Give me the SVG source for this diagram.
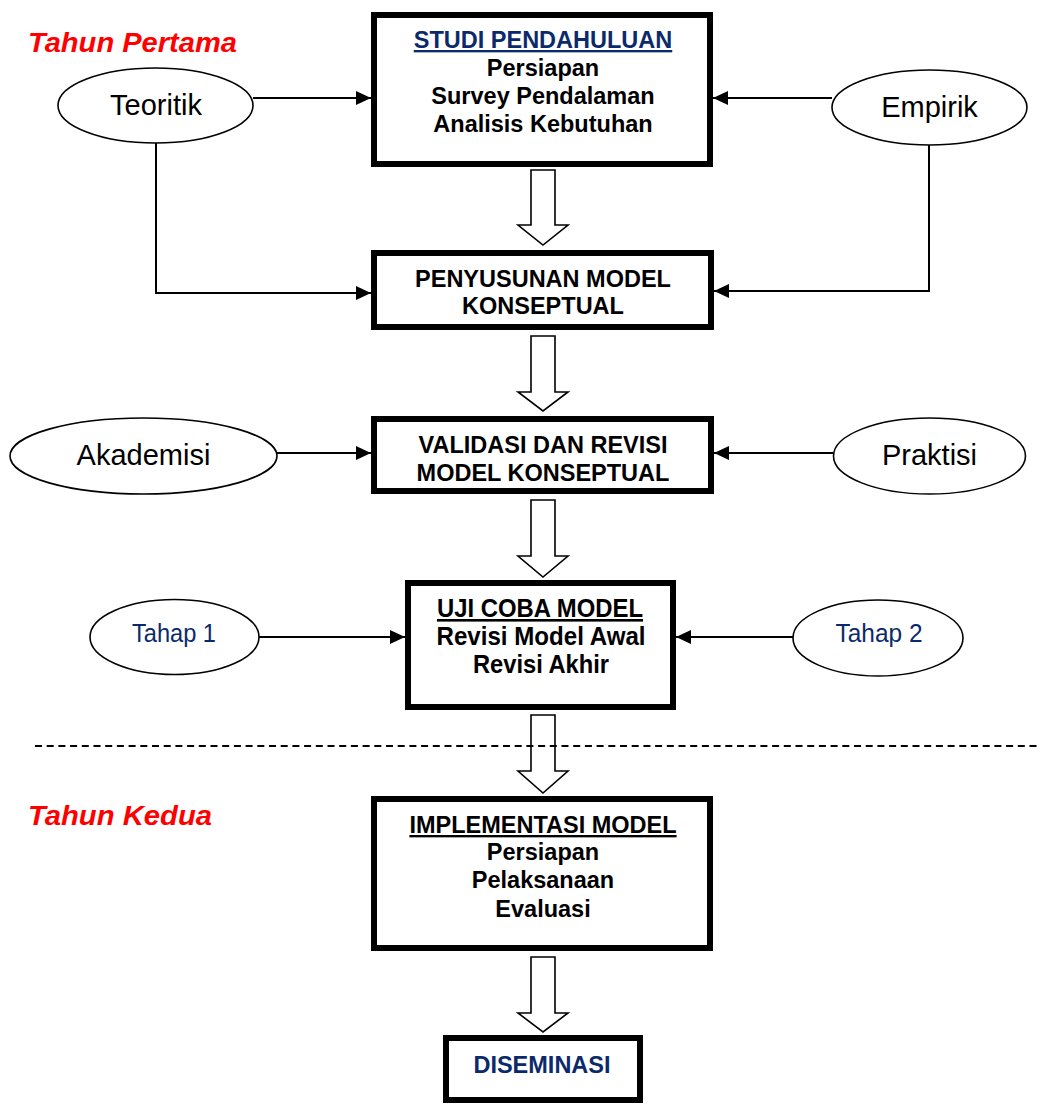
<svg xmlns="http://www.w3.org/2000/svg" width="1041" height="1104" viewBox="0 0 1041 1104">
  <defs>
    <marker id="ah" markerUnits="userSpaceOnUse" markerWidth="15" markerHeight="14" refX="15" refY="7" orient="auto">
      <path d="M0,0 L15,7 L0,14 Z" fill="#000"/>
    </marker>
    <style>
      .box { fill: #fff; stroke: #000; stroke-width: 6; }
      .ell { fill: #fff; stroke: #000; stroke-width: 1.6; }
      .line { fill: none; stroke: #000; stroke-width: 2; }
      .arr { marker-end: url(#ah); }
      .blk { fill: #fff; stroke: #000; stroke-width: 1.6; stroke-linejoin: miter; }
      .bt { font-family: "Liberation Sans", Arial, sans-serif; font-weight: bold; font-size: 23.5px; text-anchor: middle; fill: #000; }
      .nt { font-family: "Liberation Sans Narrow", "Liberation Sans", Arial, sans-serif; font-weight: bold; font-size: 26px; text-anchor: middle; fill: #000; }
      .et { font-family: "Liberation Sans", Arial, sans-serif; font-size: 29px; text-anchor: middle; fill: #000; }
      .tt { font-family: "Liberation Sans Narrow", "Liberation Sans", Arial, sans-serif; font-size: 26px; text-anchor: middle; fill: #0B2A6B; }
      .navy { fill: #0B2A6B; }
      .red { font-family: "Liberation Sans", Arial, sans-serif; font-weight: bold; font-style: italic; font-size: 28px; fill: #FF0000; }
      .u { text-decoration: underline; }
    </style>
  </defs>

  <g id="title-tahun-pertama">
    <text class="red" x="28" y="52" textLength="209" lengthAdjust="spacingAndGlyphs">Tahun Pertama</text>
  </g>
  <g id="title-tahun-kedua">
    <text class="red" x="28" y="825" textLength="184" lengthAdjust="spacingAndGlyphs">Tahun Kedua</text>
  </g>

  <g id="connectors">
    <line class="line arr" x1="253" y1="98" x2="371" y2="98"/>
    <line class="line arr" x1="832" y1="98" x2="713" y2="98"/>
    <polyline class="line arr" points="156,143 156,293 371,293"/>
    <polyline class="line arr" points="929,145 929,291 714,291"/>
    <line class="line arr" x1="277" y1="453" x2="371" y2="453"/>
    <line class="line arr" x1="833" y1="453" x2="714" y2="453"/>
    <line class="line arr" x1="259" y1="637" x2="405" y2="637"/>
    <line class="line arr" x1="793" y1="637" x2="676" y2="637"/>
    <path class="blk" d="M531,170 L555,170 L555,225 L568,225 L543,245 L518,225 L531,225 Z"/>
    <path class="blk" d="M531,336 L555,336 L555,392 L568,392 L543,411 L518,392 L531,392 Z"/>
    <path class="blk" d="M531,500 L555,500 L555,556 L568,556 L543,577 L518,556 L531,556 Z"/>
    <path class="blk" d="M531,715 L555,715 L555,771 L568,771 L543,793 L518,771 L531,771 Z"/>
    <path class="blk" d="M531,957 L555,957 L555,1013 L568,1013 L543,1032 L518,1013 L531,1013 Z"/>
    <line x1="35" y1="746" x2="1041" y2="746" stroke="#000" stroke-width="2" stroke-dasharray="7 4.7"/>
  </g>

  <g id="node-studi">
    <rect class="box" x="374" y="15" width="336" height="149"/>
    <text class="bt navy u" x="543" y="48">STUDI PENDAHULUAN</text>
    <text class="bt" x="543" y="76">Persiapan</text>
    <text class="bt" x="543" y="104">Survey Pendalaman</text>
    <text class="bt" x="543" y="132">Analisis Kebutuhan</text>
  </g>

  <g id="node-teoritik">
    <ellipse class="ell" cx="155.5" cy="105.5" rx="97.5" ry="37.5"/>
    <text class="et" x="156" y="115">Teoritik</text>
  </g>

  <g id="node-empirik">
    <ellipse class="ell" cx="929.5" cy="107.5" rx="97.5" ry="37.5"/>
    <text class="et" x="929.5" y="117">Empirik</text>
  </g>

  <g id="node-penyusunan">
    <rect class="box" x="374" y="253" width="337" height="74"/>
    <text class="bt" x="543" y="287">PENYUSUNAN MODEL</text>
    <text class="bt" x="543" y="314">KONSEPTUAL</text>
  </g>

  <g id="node-validasi">
    <rect class="box" x="374" y="419" width="337" height="72"/>
    <text class="bt" x="543" y="453">VALIDASI DAN REVISI</text>
    <text class="bt" x="543" y="481">MODEL KONSEPTUAL</text>
  </g>

  <g id="node-akademisi">
    <ellipse class="ell" cx="143.5" cy="456" rx="133.5" ry="38"/>
    <text class="et" x="143.5" y="465">Akademisi</text>
  </g>

  <g id="node-praktisi">
    <ellipse class="ell" cx="929.5" cy="456" rx="96" ry="38"/>
    <text class="et" x="929.5" y="465">Praktisi</text>
  </g>

  <g id="node-ujicoba">
    <rect class="box" x="408" y="583" width="265" height="124"/>
    <text class="nt u" x="540" y="617" textLength="206" lengthAdjust="spacingAndGlyphs">UJI COBA MODEL</text>
    <text class="nt" x="541" y="645" textLength="209" lengthAdjust="spacingAndGlyphs">Revisi Model Awal</text>
    <text class="nt" x="541" y="673" textLength="136" lengthAdjust="spacingAndGlyphs">Revisi Akhir</text>
  </g>

  <g id="node-tahap1">
    <ellipse class="ell" cx="174.5" cy="637" rx="84.5" ry="37.5"/>
    <text class="tt" x="174" y="642" textLength="84" lengthAdjust="spacingAndGlyphs">Tahap 1</text>
  </g>

  <g id="node-tahap2">
    <ellipse class="ell" cx="878" cy="638" rx="85" ry="38"/>
    <text class="tt" x="879" y="642" textLength="87" lengthAdjust="spacingAndGlyphs">Tahap 2</text>
  </g>

  <g id="node-implementasi">
    <rect class="box" x="374" y="799" width="336" height="149"/>
    <text class="bt u" x="543" y="833">IMPLEMENTASI MODEL</text>
    <text class="bt" x="543" y="860">Persiapan</text>
    <text class="bt" x="543" y="888">Pelaksanaan</text>
    <text class="bt" x="543" y="917">Evaluasi</text>
  </g>

  <g id="node-diseminasi">
    <rect class="box" x="446" y="1038" width="194" height="62"/>
    <text class="bt navy" x="542" y="1073">DISEMINASI</text>
  </g>
</svg>
